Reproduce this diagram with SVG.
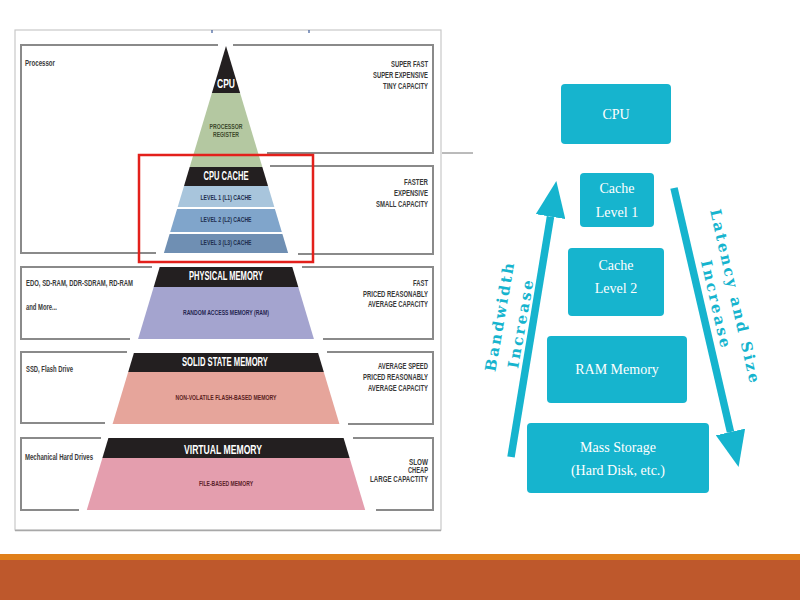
<svg xmlns="http://www.w3.org/2000/svg" width="800" height="600" viewBox="0 0 800 600">
<style>
.frame{fill:none;stroke:#c9c9c9;stroke-width:1.2}
.sec{fill:none;stroke:#8a8a8a;stroke-width:2}
.desc{font-family:"Liberation Sans",Arial,sans-serif;font-size:9px;fill:#3a3a3a;font-weight:bold}
.rdesc{font-family:"Liberation Sans",Arial,sans-serif;font-size:9px;fill:#3a3a3a;font-weight:bold;text-anchor:end}
.band{font-family:"Liberation Sans",Arial,sans-serif;font-size:12px;fill:#ffffff;font-weight:bold;text-anchor:middle}
.small{font-family:"Liberation Sans",Arial,sans-serif;font-size:7px;font-weight:bold;text-anchor:middle}
.box{fill:#16b4ce}
.btxt{font-family:"Liberation Serif","DejaVu Serif",serif;font-size:14px;fill:#ffffff;text-anchor:middle}
.atxt{font-family:"DejaVu Serif","Liberation Serif",serif;font-size:15px;font-weight:bold;fill:#16b4ce;text-anchor:middle;letter-spacing:2.4px}
.arrow{stroke:#16b4ce;stroke-width:7.5;fill:none}
</style>
<defs>
<clipPath id="pyr"><polygon points="226,46 368.2,520 83.8,520"/></clipPath>
<marker id="ah" markerUnits="userSpaceOnUse" markerWidth="36" markerHeight="30" refX="0" refY="15" orient="auto">
<path d="M0,0 L36,15 L0,30 z" fill="#16b4ce"/>
</marker>
</defs>
<rect width="800" height="600" fill="#ffffff"/>

<!-- left picture frame -->
<rect class="frame" x="15" y="30" width="426" height="500"/>
<line x1="15" y1="530.5" x2="441" y2="530.5" stroke="#a8a8a8" stroke-width="1.5"/>
<line x1="212" y1="30" x2="212" y2="33" stroke="#3b5b9a" stroke-width="1.2"/>
<line x1="309" y1="30" x2="309" y2="33" stroke="#3b5b9a" stroke-width="1.2"/>
<line x1="442" y1="153" x2="473" y2="153" stroke="#777" stroke-width="1"/>

<!-- section brackets -->
<g id="sections">
<path class="sec" d="M218,45 H21 V253 H156"/>
<path class="sec" d="M233,45 H433 V153 H267"/>
<path class="sec" d="M270,166 H433 V254 H298"/>
<path class="sec" d="M152,267 H21 V339 H130"/>
<path class="sec" d="M302,267 H433 V339 H323"/>
<path class="sec" d="M127,352 H21 V423 H105"/>
<path class="sec" d="M327,352 H433 V424 H348"/>
<path class="sec" d="M101,438 H21 V510 H79"/>
<path class="sec" d="M353,438 H433 V510 H376"/>
</g>

<!-- pyramid -->
<g id="pyramid" clip-path="url(#pyr)">
<rect x="80" y="46" width="300" height="47" fill="#231f20"/>
<rect x="80" y="93" width="300" height="74" fill="#b4c8a1"/>
<rect x="80" y="167" width="300" height="19" fill="#231f20"/>
<rect x="80" y="186" width="300" height="21" fill="#a8c5dc"/>
<rect x="80" y="209" width="300" height="23" fill="#80a5cb"/>
<rect x="80" y="234" width="300" height="19" fill="#6f8fb3"/>
<rect x="80" y="267" width="300" height="20" fill="#231f20"/>
<rect x="80" y="287" width="300" height="52" fill="#a4a4cf"/>
<rect x="80" y="353" width="300" height="19" fill="#231f20"/>
<rect x="80" y="372" width="300" height="52" fill="#e6a59b"/>
<rect x="80" y="438" width="300" height="20" fill="#231f20"/>
<rect x="80" y="458" width="300" height="52" fill="#e49eae"/>
</g>

<g id="tier-cpu">
<text class="band" x="226" y="88" textLength="18" lengthAdjust="spacingAndGlyphs">CPU</text>
<text class="small" x="226" y="128.5" fill="#3d4a2c" textLength="33" lengthAdjust="spacingAndGlyphs">PROCESSOR</text>
<text class="small" x="226" y="136.5" fill="#3d4a2c" textLength="26" lengthAdjust="spacingAndGlyphs">REGISTER</text>
</g>
<g id="tier-cache">
<text class="band" x="226" y="180" font-size="11" textLength="45" lengthAdjust="spacingAndGlyphs">CPU CACHE</text>
<text class="small" x="226" y="199.5" fill="#1f2f4f" textLength="51" lengthAdjust="spacingAndGlyphs">LEVEL 1 (L1) CACHE</text>
<text class="small" x="226" y="221.5" fill="#1f2f4f" textLength="51" lengthAdjust="spacingAndGlyphs">LEVEL 2 (L2) CACHE</text>
<text class="small" x="226" y="244.5" fill="#1f2f4f" textLength="51" lengthAdjust="spacingAndGlyphs">LEVEL 3 (L3) CACHE</text>
</g>
<g id="tier-physical">
<text class="band" x="226" y="280" textLength="74" lengthAdjust="spacingAndGlyphs">PHYSICAL MEMORY</text>
<text class="small" x="226" y="314.5" fill="#262650" textLength="86" lengthAdjust="spacingAndGlyphs">RANDOM ACCESS MEMORY (RAM)</text>
</g>
<g id="tier-ssd">
<text class="band" x="225" y="366" textLength="86" lengthAdjust="spacingAndGlyphs">SOLID STATE MEMORY</text>
<text class="small" x="226" y="399.5" fill="#5b1f1f" textLength="101" lengthAdjust="spacingAndGlyphs">NON-VOLATILE FLASH-BASED MEMORY</text>
</g>
<g id="tier-virtual">
<text class="band" x="223" y="454" textLength="78" lengthAdjust="spacingAndGlyphs">VIRTUAL MEMORY</text>
<text class="small" x="226" y="485.5" fill="#5b1f2a" textLength="54" lengthAdjust="spacingAndGlyphs">FILE-BASED MEMORY</text>
</g>

<!-- left descriptions -->
<g id="left-labels">
<text class="desc" x="25" y="66" textLength="30" lengthAdjust="spacingAndGlyphs">Processor</text>
<text class="desc" x="26" y="286" textLength="107" lengthAdjust="spacingAndGlyphs">EDO, SD-RAM, DDR-SDRAM, RD-RAM</text>
<text class="desc" x="26" y="310" textLength="31" lengthAdjust="spacingAndGlyphs">and More...</text>
<text class="desc" x="26" y="372" textLength="47" lengthAdjust="spacingAndGlyphs">SSD, Flash Drive</text>
<text class="desc" x="25" y="460" textLength="68" lengthAdjust="spacingAndGlyphs">Mechanical Hard Drives</text>
</g>

<!-- right descriptions -->
<g id="right-labels">
<text class="rdesc" x="428" y="66.5" textLength="37" lengthAdjust="spacingAndGlyphs">SUPER FAST</text>
<text class="rdesc" x="428" y="77.5" textLength="55" lengthAdjust="spacingAndGlyphs">SUPER EXPENSIVE</text>
<text class="rdesc" x="428" y="89" textLength="45" lengthAdjust="spacingAndGlyphs">TINY CAPACITY</text>
<text class="rdesc" x="428" y="185" textLength="24" lengthAdjust="spacingAndGlyphs">FASTER</text>
<text class="rdesc" x="428" y="196" textLength="34" lengthAdjust="spacingAndGlyphs">EXPENSIVE</text>
<text class="rdesc" x="428" y="207" textLength="52" lengthAdjust="spacingAndGlyphs">SMALL CAPACITY</text>
<text class="rdesc" x="428" y="286" textLength="15" lengthAdjust="spacingAndGlyphs">FAST</text>
<text class="rdesc" x="428" y="296.5" textLength="65" lengthAdjust="spacingAndGlyphs">PRICED REASONABLY</text>
<text class="rdesc" x="428" y="307" textLength="60" lengthAdjust="spacingAndGlyphs">AVERAGE CAPACITY</text>
<text class="rdesc" x="428" y="369" textLength="50" lengthAdjust="spacingAndGlyphs">AVERAGE SPEED</text>
<text class="rdesc" x="428" y="380" textLength="65" lengthAdjust="spacingAndGlyphs">PRICED REASONABLY</text>
<text class="rdesc" x="428" y="391" textLength="60" lengthAdjust="spacingAndGlyphs">AVERAGE CAPACITY</text>
<text class="rdesc" x="428" y="464.5" font-size="8.5" textLength="19" lengthAdjust="spacingAndGlyphs">SLOW</text>
<text class="rdesc" x="428" y="473" font-size="8.5" textLength="20" lengthAdjust="spacingAndGlyphs">CHEAP</text>
<text class="rdesc" x="428" y="481.5" font-size="8.5" textLength="58" lengthAdjust="spacingAndGlyphs">LARGE CAPACTITY</text>
</g>

<rect x="139" y="155" width="174" height="107" fill="none" stroke="#e3201b" stroke-width="2.5"/>

<!-- right diagram -->
<g id="connectors">
<line class="arrow" x1="511" y1="457" x2="550.5" y2="216.6" marker-end="url(#ah)"/>
<line class="arrow" x1="674" y1="188" x2="730.5" y2="432" marker-end="url(#ah)"/>
</g>
<g id="cpu">
<rect class="box" x="561" y="84" width="110" height="60" rx="4"/>
<text class="btxt" x="616" y="119">CPU</text>
</g>
<g id="cache-l1">
<rect class="box" x="580" y="173" width="74" height="54" rx="4"/>
<text class="btxt" x="617" y="193">Cache</text>
<text class="btxt" x="617" y="217">Level 1</text>
</g>
<g id="cache-l2">
<rect class="box" x="568" y="248" width="96" height="68" rx="4"/>
<text class="btxt" x="616" y="270">Cache</text>
<text class="btxt" x="616" y="293">Level 2</text>
</g>
<g id="ram">
<rect class="box" x="547" y="336" width="140" height="67" rx="4"/>
<text class="btxt" x="617" y="374">RAM Memory</text>
</g>
<g id="mass-storage">
<rect class="box" x="527" y="423" width="182" height="70" rx="4"/>
<text class="btxt" x="618" y="452">Mass Storage</text>
<text class="btxt" x="618" y="475">(Hard Disk, etc.)</text>
</g>
<g id="arrow-labels">
<text class="atxt" transform="translate(500,316) rotate(-80)" dominant-baseline="central">Bandwidth</text>
<text class="atxt" transform="translate(521,323) rotate(-80)" dominant-baseline="central">Increase</text>
<text class="atxt" transform="translate(735,297) rotate(77)" dominant-baseline="central">Latency and Size</text>
<text class="atxt" transform="translate(716,305) rotate(77)" dominant-baseline="central">Increase</text>
</g>

<!-- footer -->
<rect x="0" y="554" width="800" height="6" fill="#e07f1a"/>
<rect x="0" y="560" width="800" height="40" fill="#be582c"/>
</svg>
